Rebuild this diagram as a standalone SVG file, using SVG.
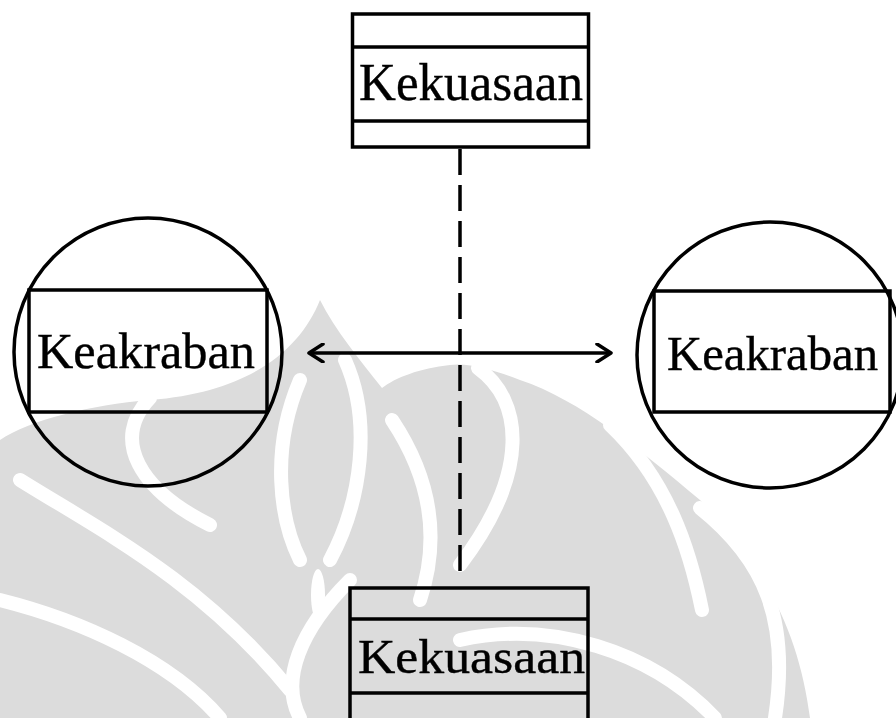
<svg xmlns="http://www.w3.org/2000/svg" width="896" height="718" viewBox="0 0 896 718">
<defs>
<style>
.wm{fill:#dcdcdc;stroke:none}
.wl{fill:none;stroke:#ffffff;stroke-width:14;stroke-linecap:round}
.box{fill:none;stroke:#000;stroke-width:3.5}
.ln{stroke:#000;stroke-width:3.5}
.lbl{font-family:"Liberation Serif","Times New Roman",serif;fill:#000;stroke:#000;stroke-width:0.4}
</style>
<marker id="chev" viewBox="0 0 20 20" refX="18" refY="10" markerWidth="20" markerHeight="20" markerUnits="userSpaceOnUse" orient="auto-start-reverse">
<path d="M4,1 L18,10 L4,19" fill="none" stroke="#000" stroke-width="3.5" stroke-linecap="round" stroke-linejoin="round"/>
</marker>
</defs>
<rect width="896" height="718" fill="#ffffff"/>
<g id="watermark">
<path class="wm" d="M320,300 C300,350 250,392 150,400 C90,405 30,420 0,440 L0,718 L810,718 C800,640 770,570 700,500 C640,450 580,400 520,380 C500,372 470,362 450,365 C420,368 395,378 382,388 C360,360 335,330 320,300 Z"/>
<path class="wl" d="M150,398 C110,440 140,490 210,525"/>
<path class="wl" d="M20,480 C100,530 200,580 290,690"/>
<path class="wl" d="M0,600 C80,620 170,660 220,718"/>
<path class="wl" d="M300,380 C270,450 280,520 300,560"/>
<path class="wl" d="M345,360 C372,420 362,500 330,560"/>
<ellipse cx="318" cy="595" rx="7" ry="26" fill="#fff"/>
<path class="wl" d="M392,420 C432,480 440,540 420,600"/>
<path class="wl" d="M478,368 C522,400 532,470 460,565"/>
<path class="wl" d="M610,425 C668,480 690,550 702,610"/>
<path class="wl" d="M700,508 C765,560 790,620 775,718"/>
<path class="wl" d="M460,640 C550,620 650,650 715,718"/>
<path class="wl" d="M350,580 C300,630 280,680 300,718"/>
</g>
<g id="connectors">
<line class="ln" x1="460" y1="149" x2="460" y2="576" stroke-dasharray="26 10"/>
<line class="ln" x1="309" y1="353" x2="611" y2="353" marker-start="url(#chev)" marker-end="url(#chev)"/>
</g>
<g id="kekuasaan-top">
<rect class="box" x="352.5" y="14" width="236" height="133"/>
<line class="ln" x1="352.5" y1="47" x2="588.5" y2="47"/>
<line class="ln" x1="352.5" y1="121" x2="588.5" y2="121"/>
<text class="lbl" x="359" y="100" font-size="52" textLength="224" lengthAdjust="spacingAndGlyphs">Kekuasaan</text>
</g>
<g id="keakraban-left">
<circle class="box" cx="148" cy="352" r="134"/>
<rect class="box" x="29" y="290" width="238" height="122"/>
<text class="lbl" x="37" y="368" font-size="50" textLength="218" lengthAdjust="spacingAndGlyphs">Keakraban</text>
</g>
<g id="keakraban-right">
<circle class="box" cx="770" cy="355" r="133"/>
<rect class="box" x="654" y="291" width="236" height="121"/>
<text class="lbl" x="667" y="370" font-size="49" textLength="211" lengthAdjust="spacingAndGlyphs">Keakraban</text>
</g>
<g id="kekuasaan-bottom">
<rect class="box" x="350" y="588" width="238" height="140"/>
<line class="ln" x1="350" y1="619" x2="588" y2="619"/>
<line class="ln" x1="350" y1="693" x2="588" y2="693"/>
<text class="lbl" x="358" y="673" font-size="48" textLength="227" lengthAdjust="spacingAndGlyphs">Kekuasaan</text>
</g>
</svg>
